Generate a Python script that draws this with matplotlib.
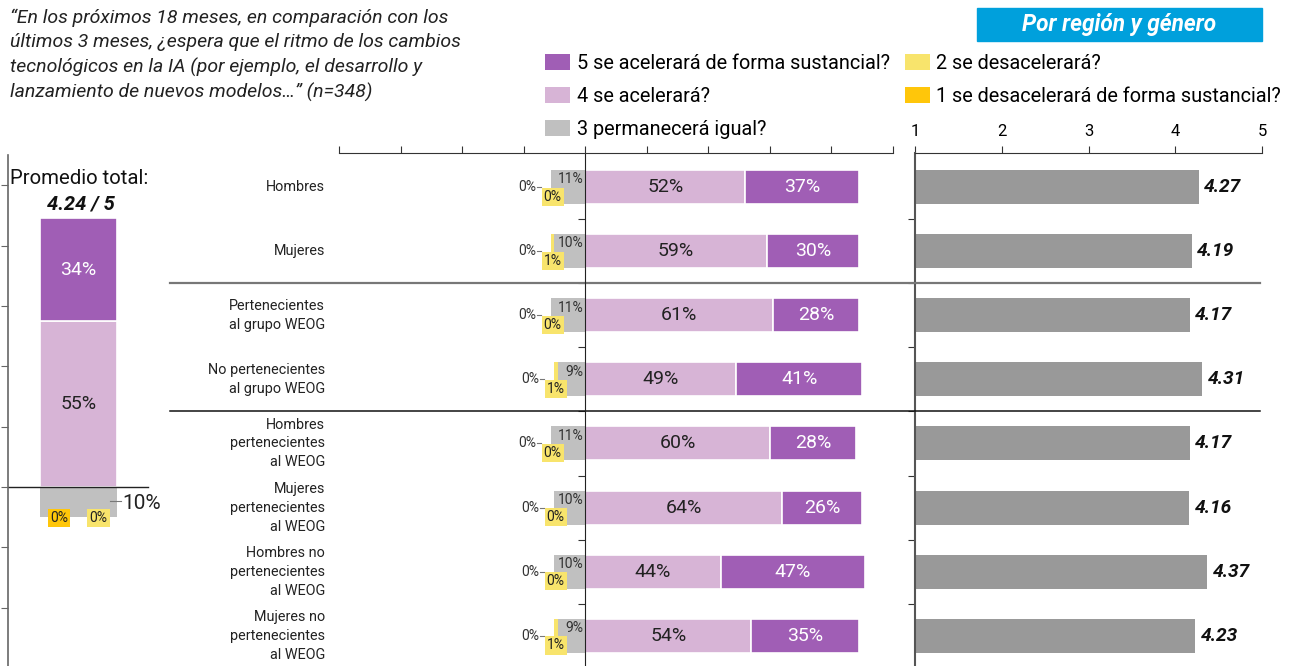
import numpy as np
import matplotlib.pyplot as plt
from matplotlib.patches import Rectangle, Patch

plt.rcParams['font.family'] = ['Roboto', 'DejaVu Sans']

# data
groups = ['Hombres', 'Mujeres',
          'Pertenecientes\nal grupo WEOG', 'No pertenecientes\nal grupo WEOG',
          'Hombres\npertenecientes\nal WEOG', 'Mujeres\npertenecientes\nal WEOG',
          'Hombres no\npertenecientes\nal WEOG', 'Mujeres no\npertenecientes\nal WEOG']
p1 = np.array([0, 0, 0, 0, 0, 0, 0, 0])        # 1 se desacelerará de forma sustancial
p2 = np.array([0, 1, 0, 1, 0, 0, 0, 1])        # 2 se desacelerará
p3 = np.array([11, 10, 11, 9, 11, 10, 10, 9])  # 3 permanecerá igual
p4 = np.array([52, 59, 61, 49, 60, 64, 44, 54])  # 4 se acelerará
p5 = np.array([37, 30, 28, 41, 28, 26, 47, 35])  # 5 se acelerará de forma sustancial
avg = [4.27, 4.19, 4.17, 4.31, 4.17, 4.16, 4.37, 4.23]

# total column (scores 1..5)
total_vals = [0, 0, 10, 55, 34]
total_avg = 4.24

legend_labels = ['5 se acelerará de forma sustancial?', '4 se acelerará?',
                 '3 permanecerá igual?', '2 se desacelerará?',
                 '1 se desacelerará de forma sustancial?']
avg_ticks = [1, 2, 3, 4, 5]

c5 = '#A05EB5'
c4 = '#D7B4D6'
c3 = '#C0C0C0'
c2 = '#F8E46C'
c1 = '#FFC60A'
cavg = '#999999'
blue = '#00A0DC'

W, H = 1293, 666
fig = plt.figure(figsize=(W / 100, H / 100), dpi=100)


def px(l, t, r, b):
    # pixel box -> figure fraction rect
    return [l / W, 1 - b / H, (r - l) / W, (b - t) / H]


axl = fig.add_axes(px(8, 155, 160, 666))
axr = fig.add_axes(px(915, 153, 1262, 666))
ax = fig.add_axes(px(339, 153, 893, 666))
for a in (axl, axr, ax):
    a.patch.set_visible(False)

y = np.arange(len(groups))
bh = 0.53

# diverging bars
ax.barh(y, p4, height=bh, color=c4, edgecolor='white', linewidth=1.2)
ax.barh(y, p5, left=p4, height=bh, color=c5, edgecolor='white', linewidth=1.2)
ax.barh(y, -p3, height=bh, color=c3)
ax.barh(y, -p2, left=-p3, height=bh, color=c2)
ax.barh(y, -p1, left=-(p3 + p2), height=bh, color=c1)

for i in range(len(groups)):
    ax.text(p4[i] / 2, i, f'{p4[i]}%', ha='center', va='center', fontsize=14, color='#222222')
    ax.text(p4[i] + p5[i] / 2, i, f'{p5[i]}%', ha='center', va='center', fontsize=14, color='white')
    ax.text(-0.6, i - 0.12, f'{p3[i]}%', ha='right', va='center', fontsize=10, color='#333333')
    left = -(p3[i] + p2[i] + p1[i])
    ax.text(left + 0.4, i + 0.15, f'{p2[i]}%', ha='center', va='center', fontsize=10,
            color='#222222', bbox=dict(boxstyle='square,pad=0.15', fc=c2, ec='none'))
    ax.text(left - 5.0, i, f'{p1[i]}%', ha='right', va='center', fontsize=10, color='#333333')
    ax.plot([left - 4.7, left - 3.3], [i, i], color='#777777', lw=0.8)
    ax.text(-0.025, i, groups[i], transform=ax.get_yaxis_transform(), ha='right', va='center',
            multialignment='right', fontsize=10.4, linespacing=1.45, color='#222222')

ax.set_xlim(-80, 100)
ax.set_ylim(7.47, -0.53)
ax.xaxis.tick_top()
ax.set_xticks(range(-80, 101, 20))
ax.set_xticklabels([])
ax.tick_params(axis='x', direction='out', length=5, color='#333333')
ax.set_yticks(y[:-1] + 0.5)
ax.set_yticklabels([])
ax.tick_params(axis='y', direction='out', length=5, color='#333333')
ax.spines['left'].set_position(('data', 0))
for s in ['bottom', 'right']:
    ax.spines[s].set_visible(False)
ax.spines['top'].set_color('#333333')
ax.spines['left'].set_color('#222222')

# group separators across the figure
ax.plot([-0.305, 1.662], [1.5, 1.5], transform=ax.get_yaxis_transform(),
        color='#777777', lw=1.6, clip_on=False)
ax.plot([-0.305, 1.662], [3.5, 3.5], transform=ax.get_yaxis_transform(),
        color='#111111', lw=1.1, clip_on=False)

# average score bars
axr.barh(y, [a - 1 for a in avg], left=1, height=bh, color=cavg)
for i, a in enumerate(avg):
    axr.text(a + 0.06, i, f'{a:.2f}', ha='left', va='center', fontsize=13.8,
             fontweight='bold', style='italic', color='#111111')
axr.set_xlim(1, 5)
axr.set_ylim(7.47, -0.53)
axr.xaxis.tick_top()
axr.set_xticks(avg_ticks)
axr.tick_params(axis='x', direction='out', length=5, labelsize=12, pad=5, color='#333333')
axr.set_yticks(y[:-1] + 0.5)
axr.set_yticklabels([])
axr.tick_params(axis='y', direction='out', length=5, color='#333333')
for s in ['bottom', 'right']:
    axr.spines[s].set_visible(False)
axr.spines['top'].set_color('#333333')
axr.spines['left'].set_color('#555555')
axr.spines['left'].set_linewidth(1.5)

# total column
bx, bw = 0.464, 0.507
axl.bar(bx, total_vals[3], width=bw, color=c4, edgecolor='white', linewidth=1.2)
axl.bar(bx, total_vals[4], bottom=total_vals[3], width=bw, color=c5, edgecolor='white', linewidth=1.2)
axl.bar(bx, -total_vals[2], width=bw, color=c3)
axl.bar(bx, -total_vals[1], bottom=-total_vals[2], width=bw, color=c2)
axl.bar(bx, -total_vals[0], bottom=-total_vals[2] - total_vals[1], width=bw, color=c1)
axl.plot([0, 0.92], [0, 0], color='#222222', lw=1)
axl.text(bx, total_vals[3] + total_vals[4] / 2, f'{total_vals[4]}%', ha='center', va='center',
         fontsize=14, color='white')
axl.text(bx, total_vals[3] / 2, f'{total_vals[3]}%', ha='center', va='center', fontsize=14,
         color='#222222')
axl.text(0.75, -5.3, f'{total_vals[2]}%', ha='left', va='center', fontsize=15, color='#222222')
axl.plot([0.67, 0.745], [-4.6, -4.6], color='#777777', lw=0.8)
axl.text(0.335, -10.3, f'{total_vals[0]}%', ha='center', va='center', fontsize=10, color='#222222',
         bbox=dict(boxstyle='square,pad=0.15', fc=c1, ec='none'))
axl.text(0.595, -10.3, f'{total_vals[1]}%', ha='center', va='center', fontsize=10, color='#222222',
         bbox=dict(boxstyle='square,pad=0.15', fc=c2, ec='none'))
axl.set_xlim(0, 1)
axl.set_ylim(-59.3, 110)
axl.set_yticks(range(-40, 101, 20))
axl.set_yticklabels([])
axl.set_xticks([])
axl.tick_params(axis='y', direction='out', length=5, color='#666666')
for s in ['top', 'bottom', 'right']:
    axl.spines[s].set_visible(False)
axl.spines['left'].set_color('#666666')
axl.spines['left'].set_linewidth(1.2)

fig.text(79 / W, 1 - 178 / H, 'Promedio total:', ha='center', va='center', fontsize=14.7, color='#111111')
fig.text(81 / W, 1 - 204 / H, f'{total_avg:.2f} / 5', ha='center', va='center', fontsize=14.5,
         fontweight='bold', style='italic', color='#111111')

# question text
fig.text(10 / W, 1 - 9 / H,
         '\u201cEn los próximos 18 meses, en comparación con los\n'
         'últimos 3 meses, ¿espera que el ritmo de los cambios\n'
         'tecnológicos en la IA (por ejemplo, el desarrollo y\n'
         'lanzamiento de nuevos modelos\u2026\u201d (n=348)',
         ha='left', va='top', fontsize=14, style='italic', linespacing=1.43, color='#222222')

# blue header box
fig.patches.append(Rectangle((977 / W, 1 - 41 / H), 285 / W, 33 / H,
                             transform=fig.transFigure, color=blue))
fig.text(1119.5 / W, 1 - 24.5 / H, 'Por región y género', ha='center', va='center',
         color='white', fontsize=16.3, fontweight='bold', style='italic')

# legend
handles = [Patch(facecolor=c) for c in [c5, c4, c3, c2, c1]]
fig.legend(handles, legend_labels, ncol=2, loc='upper left',
           bbox_to_anchor=(545 / W, 1 - 54 / H), frameon=False, fontsize=14.3,
           handlelength=1.25, handleheight=0.9, handletextpad=0.35, columnspacing=0.75,
           labelspacing=0.7, borderpad=0, borderaxespad=0)

fig.savefig('out.png', dpi=100)
